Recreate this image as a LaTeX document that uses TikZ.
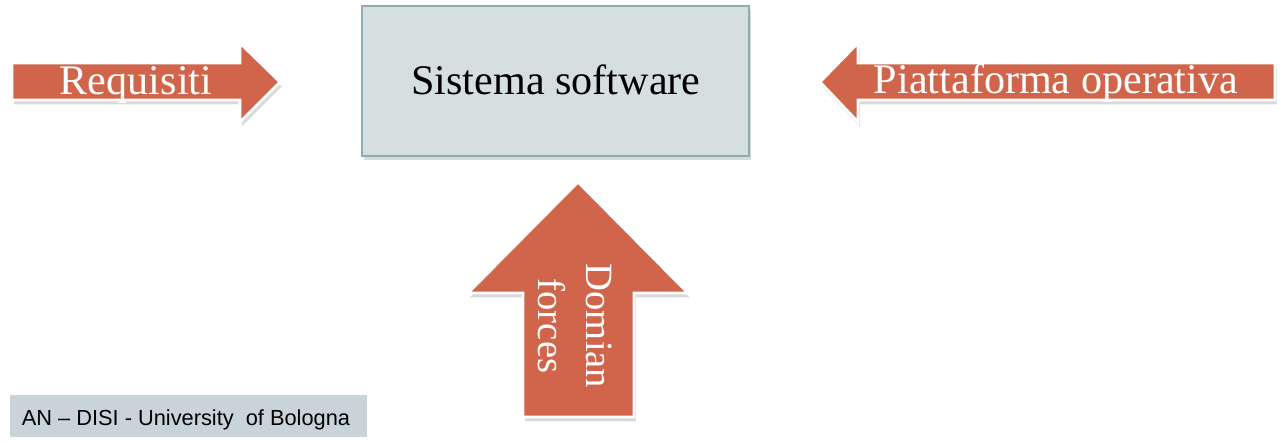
\documentclass[tikz,border=0pt]{standalone}
\usepackage{fontspec}
\setmainfont{Liberation Serif}
\newfontfamily\footfont{Liberation Sans}
\usetikzlibrary{shadows}

\definecolor{arrowred}{RGB}{208,101,75}
\definecolor{boxfill}{RGB}{214,223,224}
\definecolor{boxline}{RGB}{141,174,176}
\definecolor{footfill}{RGB}{201,211,218}

\tikzset{
  blockarrow/.style={fill=arrowred, draw=white, line width=1.6pt, line join=miter,
    drop shadow={shadow xshift=1pt, shadow yshift=-2.5pt, opacity=0.3}},
  arrowtext/.style={text=white, font=\fontsize{24}{28}\selectfont},
}

\begin{document}
\begin{tikzpicture}[x=0.02cm, y=-0.02cm]

\useasboundingbox (0,0) rectangle (1287,442);

% ----------------------------------------------------------
% Central system box
% ----------------------------------------------------------
\draw[fill=boxfill, draw=boxline, line width=1.2pt,
      drop shadow={shadow xshift=1pt, shadow yshift=-2.5pt, opacity=0.3}]
    (362,6) rectangle (749,156);
\node[anchor=base, font=\fontsize{24}{28}\selectfont] (sys) at (556,95) {Sistema software};

% ----------------------------------------------------------
% Requirements arrow (from the left)
% ----------------------------------------------------------
\draw[blockarrow] (12,63) -- (240,63) -- (240,43) -- (280,82)
    -- (240,122) -- (240,100) -- (12,100) -- cycle;
\node[arrowtext, anchor=base] (req) at (136,95) {Requisiti};

% ----------------------------------------------------------
% Platform arrow (from the right)
% ----------------------------------------------------------
\draw[blockarrow] (1275,63) -- (858,63) -- (858,43) -- (820,82)
    -- (858,122) -- (858,100) -- (1275,100) -- cycle;
\node[arrowtext, anchor=base] (plat) at (1056,94) {Piattaforma operativa};

% ----------------------------------------------------------
% Domain arrow (from below)
% ----------------------------------------------------------
\draw[blockarrow] (523,417) -- (523,293) -- (468,293) -- (578,182)
    -- (688,293) -- (634,293) -- (634,417) -- cycle;
\node[text=white, font=\fontsize{22}{27}\selectfont, align=center, rotate=-90]
    (dom) at (575,326) {Domian\\forces};

% ----------------------------------------------------------
% Footer
% ----------------------------------------------------------
\fill[footfill] (10,395) rectangle (367,437);
\node[anchor=base, font=\footfont\fontsize{12.4}{15}\selectfont] (foot) at (186,425)
    {AN – DISI - University\ \ of Bologna};

\end{tikzpicture}
\end{document}
